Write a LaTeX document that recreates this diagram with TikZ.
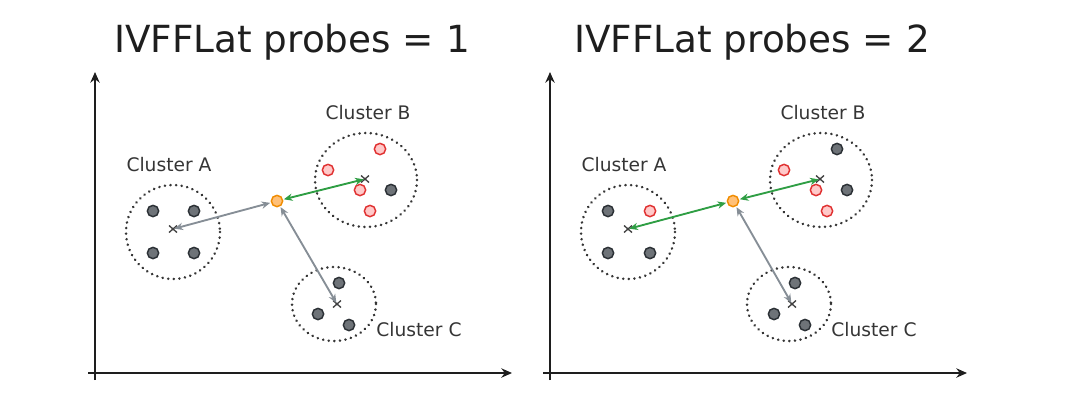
\documentclass[tikz,border=0pt]{standalone}
\usepackage{fontspec}
\setmainfont{DejaVu Sans}
\usetikzlibrary{arrows.meta}
\definecolor{ink}{HTML}{1E1E1E}
\definecolor{ptfill}{HTML}{6E7378}
\definecolor{ptdraw}{HTML}{2B3035}
\definecolor{redfill}{HTML}{FFC9C9}
\definecolor{reddraw}{HTML}{E03131}
\definecolor{orfill}{HTML}{FFC078}
\definecolor{ordraw}{HTML}{F08C00}
\definecolor{grn}{HTML}{2F9E44}
\definecolor{gry}{HTML}{868E96}
\tikzset{
  darkpt/.style={circle,draw=ptdraw,fill=ptfill,line width=1.1pt,minimum size=8.5pt,inner sep=0pt},
  redpt/.style={circle,draw=reddraw,fill=redfill,line width=1.1pt,minimum size=8.5pt,inner sep=0pt},
  querypt/.style={circle,draw=ordraw,fill=orfill,line width=1.1pt,minimum size=8.5pt,inner sep=0pt},
  clus/.style={draw=ink!90,line width=2.1pt,line cap=round,dash pattern=on 0.01pt off 4.2pt},
  lbl/.style={font=\fontsize{14}{16}\selectfont,text=ink!90,inner sep=0pt},
  ttl/.style={font=\fontsize{28}{32}\selectfont,text=ink,inner sep=0pt},
  axis/.style={draw=ink,line width=1.4pt,-{Stealth[length=8pt,width=7pt]}},
  crossst/.style={draw=ink!85,line width=1pt},
  grayarr/.style={draw=gry,line width=1.4pt,{Stealth[length=6.5pt,width=5.5pt]}-{Stealth[length=6.5pt,width=5.5pt]},shorten <=0.5pt,shorten >=1pt},
  greenarr/.style={draw=grn,line width=1.4pt,{Stealth[length=6.5pt,width=5.5pt]}-{Stealth[length=6.5pt,width=5.5pt]},shorten <=0.5pt,shorten >=1pt}
}
\begin{document}
\begin{tikzpicture}[x=0.75pt,y=-0.75pt]
\useasboundingbox (0,0) rectangle (1080,412);
% ===== left panel =====
\node[ttl] (t1) at (292,42) {IVFFLat probes = 1};
\coordinate (o1) at (95,380);
\coordinate (yt1) at (95,72);
\coordinate (xs1) at (88,373);
\coordinate (xt1) at (512,373);
\draw[axis] (o1) -- (yt1);
\draw[axis] (xs1) -- (xt1);
\draw[clus] (173,232) circle[radius=47];
\draw[clus] (366,180) ellipse[x radius=51,y radius=47];
\draw[clus] (334,304) ellipse[x radius=42,y radius=37];
\node[lbl] (la1) at (169,165) {Cluster A};
\node[lbl] (lb1) at (368,113) {Cluster B};
\node[lbl] (lc1) at (419,330) {Cluster C};
\node[darkpt] (a11) at (153,211) {};
\node[darkpt] (a12) at (194,211) {};
\node[darkpt] (a13) at (153,253) {};
\node[darkpt] (a14) at (194,253) {};
\node[redpt] (b11) at (380,149) {};
\node[redpt] (b12) at (328,170) {};
\node[redpt] (b13) at (360,190) {};
\node[darkpt] (b14) at (391,190) {};
\node[redpt] (b15) at (370,211) {};
\node[darkpt] (c11) at (339,283) {};
\node[darkpt] (c12) at (318,314) {};
\node[darkpt] (c13) at (349,325) {};
\coordinate (ca1) at (173,229);
\coordinate (cb1) at (365,179);
\coordinate (cc1) at (337,304);
\draw[crossst] (ca1) +(-4,-3.5) -- +(4,3.5) (ca1) +(-4,3.5) -- +(4,-3.5);
\draw[crossst] (cb1) +(-4,-3.5) -- +(4,3.5) (cb1) +(-4,3.5) -- +(4,-3.5);
\draw[crossst] (cc1) +(-4,-3.5) -- +(4,3.5) (cc1) +(-4,3.5) -- +(4,-3.5);
\node[querypt] (q1) at (277,201) {};
\draw[grayarr] (q1) -- (ca1);
\draw[greenarr] (q1) -- (cb1);
\draw[grayarr] (q1) -- (cc1);
% ===== right panel =====
\node[ttl] (t2) at (752,42) {IVFFLat probes = 2};
\coordinate (o2) at (550,380);
\coordinate (yt2) at (550,72);
\coordinate (xs2) at (543,373);
\coordinate (xt2) at (967,373);
\draw[axis] (o2) -- (yt2);
\draw[axis] (xs2) -- (xt2);
\draw[clus] (628,232) circle[radius=47];
\draw[clus] (821,180) ellipse[x radius=51,y radius=47];
\draw[clus] (789,304) ellipse[x radius=42,y radius=37];
\node[lbl] (la2) at (624,165) {Cluster A};
\node[lbl] (lb2) at (823,113) {Cluster B};
\node[lbl] (lc2) at (874,330) {Cluster C};
\node[darkpt] (a21) at (608,211) {};
\node[redpt] (a22) at (650,211) {};
\node[darkpt] (a23) at (608,253) {};
\node[darkpt] (a24) at (650,253) {};
\node[darkpt] (b21) at (837,149) {};
\node[redpt] (b22) at (784,170) {};
\node[redpt] (b23) at (816,190) {};
\node[darkpt] (b24) at (847,190) {};
\node[redpt] (b25) at (827,211) {};
\node[darkpt] (c21) at (795,283) {};
\node[darkpt] (c22) at (774,314) {};
\node[darkpt] (c23) at (805,325) {};
\coordinate (ca2) at (628,229);
\coordinate (cb2) at (820,179);
\coordinate (cc2) at (792,304);
\draw[crossst] (ca2) +(-4,-3.5) -- +(4,3.5) (ca2) +(-4,3.5) -- +(4,-3.5);
\draw[crossst] (cb2) +(-4,-3.5) -- +(4,3.5) (cb2) +(-4,3.5) -- +(4,-3.5);
\draw[crossst] (cc2) +(-4,-3.5) -- +(4,3.5) (cc2) +(-4,3.5) -- +(4,-3.5);
\node[querypt] (q2) at (733,201) {};
\draw[greenarr] (q2) -- (ca2);
\draw[greenarr] (q2) -- (cb2);
\draw[grayarr] (q2) -- (cc2);
\end{tikzpicture}
\end{document}
